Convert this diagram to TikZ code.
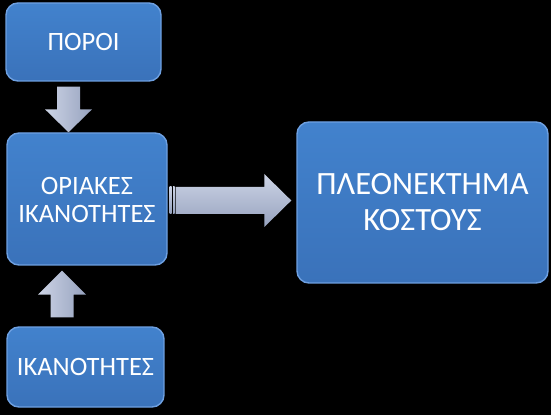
\documentclass[tikz,border=0pt]{standalone}
\usepackage{fontspec}
\setmainfont{Carlito}
\usetikzlibrary{calc}
\definecolor{boxtop}{RGB}{66,130,205}
\definecolor{boxbot}{RGB}{58,114,186}
\definecolor{boxrim}{RGB}{110,160,225}
\definecolor{arrlight}{RGB}{205,212,230}
\definecolor{arrdark}{RGB}{150,162,190}
\tikzset{
  blockbox/.style={rounded corners=12pt, top color=boxtop, bottom color=boxbot,
    draw=boxrim, line width=1.4pt, text=white, align=center, inner sep=0pt},
  smalltext/.style={font=\fontsize{26.5}{28.5}\selectfont},
  bigtext/.style={font=\fontsize{32.5}{36}\selectfont},
  vblock/.style={left color=arrlight, right color=arrdark, draw=none},
  hblock/.style={top color=arrlight, bottom color=arrdark, draw=none},
}
\begin{document}
\begin{tikzpicture}[x=1pt,y=1pt]
\fill[black] (0,0) rectangle (551,415);
\useasboundingbox (0,0) rectangle (551,415);
% boxes
\node[blockbox, smalltext, minimum width=155pt, minimum height=78pt] (poroi) at (83.5,373) {ΠΟΡΟΙ};
\node[blockbox, smalltext, minimum width=160pt, minimum height=132pt] (oriakes) at (87,216) {};
\node[smalltext, text=white, align=center, inner sep=0pt] (oriakestxt) at ($(oriakes.center)+(0,-1)$) {ΟΡΙΑΚΕΣ\\ΙΚΑΝΟΤΗΤΕΣ};
\node[blockbox, smalltext, minimum width=157pt, minimum height=80pt] (ikan) at (85.5,48) {ΙΚΑΝΟΤΗΤΕΣ};
\node[blockbox, minimum width=251pt, minimum height=161pt] (big) at (422.5,212.5) {};
\node[bigtext, text=white, align=center, inner sep=0pt] (bigtxt) at (big.center) {ΠΛΕΟΝΕΚΤΗΜΑ\\ΚΟΣΤΟΥΣ};
% down arrow
\coordinate (dtop) at ($(poroi.south)+(-15,-5)$);
\coordinate (dtip) at (dtop |- oriakes.north);
\fill[vblock] ($(dtop)+(-11.5,0)$) -- ($(dtop)+(11.5,0)$) -- ($(dtip)+(11.5,23)$) -- ($(dtip)+(23.5,23)$)
  -- (dtip) -- ($(dtip)+(-23.5,23)$) -- ($(dtip)+(-11.5,23)$) -- cycle;
% up arrow
\coordinate (ubot) at ($(ikan.north)+(-23.5,9)$);
\coordinate (utip) at ($(ubot |- oriakes.south)+(0,-5)$);
\fill[vblock] ($(ubot)+(-11.5,0)$) -- ($(ubot)+(11.5,0)$) -- ($(utip)+(11.5,-24)$) -- ($(utip)+(24,-24)$)
  -- (utip) -- ($(utip)+(-24,-24)$) -- ($(utip)+(-11.5,-24)$) -- cycle;
% right arrow
\coordinate (rstart) at ($(oriakes.east)+(2,-1.5)$);
\coordinate (rtip) at ($(rstart -| big.west)+(-5,0)$);
\fill[hblock] ($(rstart)+(0,13.5)$) rectangle ($(rstart)+(2,-13.5)$);
\fill[hblock] ($(rstart)+(3.5,13.5)$) rectangle ($(rstart)+(5,-13.5)$);
\fill[hblock] ($(rstart)+(6,13.5)$) -- ($(rtip)+(-27,13.5)$) -- ($(rtip)+(-27,26.5)$) -- (rtip)
  -- ($(rtip)+(-27,-26.5)$) -- ($(rtip)+(-27,-13.5)$) -- ($(rstart)+(6,-13.5)$) -- cycle;
\end{tikzpicture}
\end{document}
